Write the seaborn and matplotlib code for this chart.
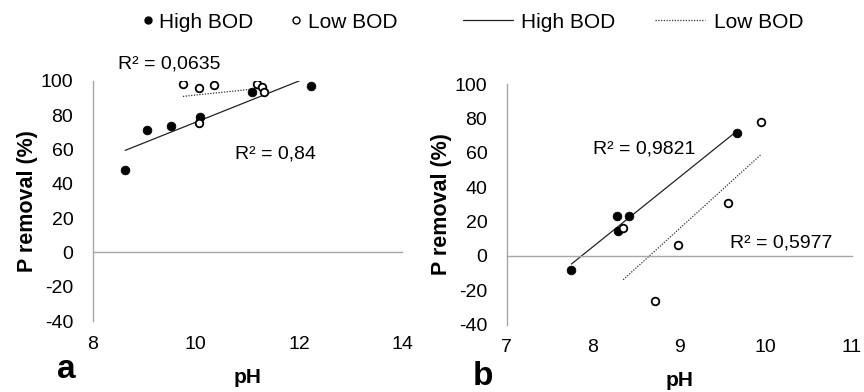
import numpy as np
import pandas as pd
import matplotlib
matplotlib.use("Agg")
import matplotlib.pyplot as plt
from matplotlib.lines import Line2D
import seaborn as sns

# panel a: pH vs P removal
a_high_ph = [8.63, 9.05, 9.52, 10.09, 11.09, 12.24]
a_high_p = [47.9, 71.3, 73.8, 79.1, 93.4, 97.1]
a_low_ph = [9.75, 10.06, 10.35, 10.07, 11.18, 11.29, 11.32]
a_low_p = [97.9, 95.5, 97.3, 75.6, 97.9, 96.5, 93.6]

# panel b
b_high_ph = [7.75, 8.28, 8.42, 8.29, 9.67]
b_high_p = [-8.1, 23.1, 23.4, 14.3, 71.3]
b_low_ph = [8.35, 8.72, 8.98, 9.57, 9.95]
b_low_p = [16.5, -26.2, 6.2, 30.6, 77.7]

a_r2 = ["R² = 0,84", "R² = 0,0635"]
b_r2 = ["R² = 0,9821", "R² = 0,5977"]

sns.set_theme(style="white")
plt.rcParams['font.family'] = ['Liberation Sans', 'DejaVu Sans']
plt.rcParams['axes.unicode_minus'] = False
plt.rcParams['text.color'] = "black"
plt.rcParams['axes.labelcolor'] = "black"

fig = plt.figure(figsize=(8.64, 3.92), dpi=100)
ax_a = fig.add_axes([0.1073, 0.181, 0.358, 0.613])
ax_b = fig.add_axes([0.5865, 0.1717, 0.3993, 0.614])

grey = "#a6a6a6"


def panel(ax, hx, hy, lx, ly, xlim, xticks, letter, lx_pos, ly_pos, ph_y, ypad):
    high = pd.DataFrame({"pH": hx, "P": hy})
    low = pd.DataFrame({"pH": lx, "P": ly})
    sns.regplot(data=high, x="pH", y="P", ax=ax, scatter=False, ci=None,
                line_kws=dict(color="#222222", lw=0.9))
    sns.regplot(data=low, x="pH", y="P", ax=ax, scatter=False, ci=None,
                line_kws=dict(color="#333333", lw=0.9, ls=(0, (1, 1.2))))
    sns.scatterplot(data=high, x="pH", y="P", ax=ax, color="black",
                    edgecolor="black", s=40, zorder=5, legend=False)
    sns.scatterplot(data=low, x="pH", y="P", ax=ax, facecolor="white",
                    edgecolor="black", linewidth=1.3, s=30, zorder=5, legend=False)
    ax.set_xlim(*xlim)
    ax.set_ylim(-40, 100)
    ax.set_xticks(xticks)
    ax.set_yticks(np.arange(-40, 101, 20))
    for s in ["top", "right"]:
        ax.spines[s].set_visible(False)
    for s in ["left", "bottom"]:
        ax.spines[s].set_color(grey)
        ax.spines[s].set_linewidth(1.0)
    ax.spines["bottom"].set_position(("data", 0))
    ax.tick_params(axis="x", direction="out", length=6, color=grey, width=1,
                   pad=54, labelsize=14, labelcolor="black")
    ax.tick_params(axis="y", direction="out", length=5, color=grey, width=1,
                   pad=ypad, labelsize=14, labelcolor="black")
    ax.set_xlabel("")
    ax.set_ylabel("P removal (%)", fontsize=15.5, fontweight="bold", labelpad=2)
    ax.text(0.5, ph_y, "pH", transform=ax.transAxes, ha="center", va="center",
            fontsize=15, fontweight="bold")
    ax.text(lx_pos, ly_pos, letter, transform=ax.transAxes, ha="center",
            va="center", fontsize=24, fontweight="bold")


panel(ax_a, a_high_ph, a_high_p, a_low_ph, a_low_p, (8, 14), [8, 10, 12, 14],
      "a", -0.086, -0.2, -0.237, 9)
panel(ax_b, b_high_ph, b_high_p, b_low_ph, b_low_p, (7, 11), [7, 8, 9, 10, 11],
      "b", -0.069, -0.215, -0.23, 9)

ax_a.text(10.76, 57.5, a_r2[0], fontsize=14, va="center")
ax_a.text(8.49, 110, a_r2[1], fontsize=14, va="center", clip_on=False)
ax_b.text(8.0, 62, b_r2[0], fontsize=14, va="center")
ax_b.text(9.59, 7.4, b_r2[1], fontsize=14, va="center")

pt_handles = [
    Line2D([], [], ls="", marker="o", color="black", markersize=5),
    Line2D([], [], ls="", marker="o", markerfacecolor="white",
           markeredgecolor="black", markersize=5, markeredgewidth=1),
]
ln_handles = [
    Line2D([], [], color="#222222", lw=0.9),
    Line2D([], [], color="#333333", lw=0.9, ls=(0, (1, 1.2))),
]
fig.legend(pt_handles, ["High BOD", "Low BOD"], loc="center",
           bbox_to_anchor=(270 / 864, 1 - 22 / 392), ncol=2, frameon=False,
           fontsize=15, handlelength=0.5, handletextpad=0.3, columnspacing=1.8)
fig.legend(ln_handles, ["High BOD", "Low BOD"], loc="center",
           bbox_to_anchor=(633 / 864, 1 - 22 / 392), ncol=2, frameon=False,
           fontsize=15, handlelength=2.4, handletextpad=0.4, columnspacing=1.9)

fig.savefig("out.png", dpi=100)
